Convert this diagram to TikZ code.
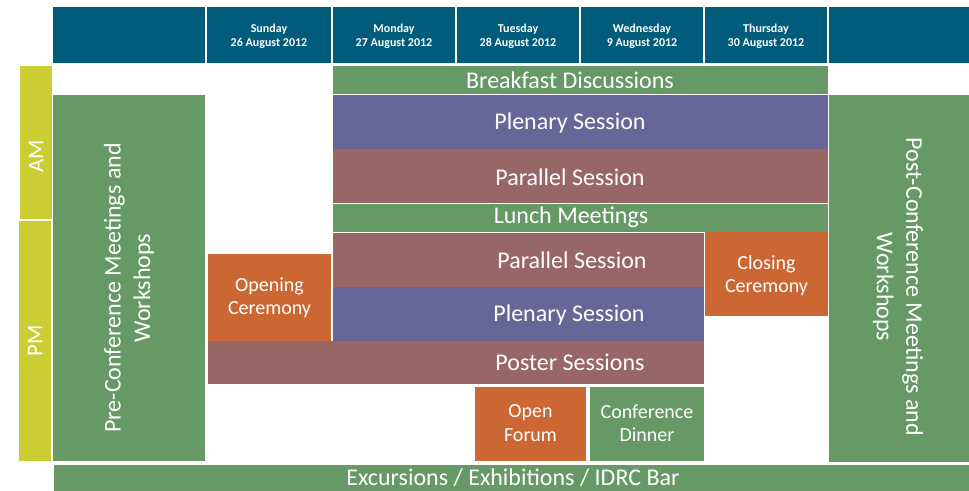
\documentclass[tikz,border=0pt]{standalone}
\usepackage{fontspec}
\setmainfont{Carlito}
\usepackage{tikz}
\definecolor{hdrblue}{RGB}{0,92,122}
\definecolor{grn}{RGB}{102,153,102}
\definecolor{plen}{RGB}{102,102,153}
\definecolor{mauve}{RGB}{153,102,102}
\definecolor{orng}{RGB}{204,102,51}
\definecolor{ylw}{RGB}{204,204,51}
\begin{document}
\begin{tikzpicture}[x=0.75pt, y=-0.75pt,
    hdr/.style={white, align=center, font=\fontsize{9}{10.5}\selectfont\bfseries},
    lbl/.style={white, align=center, font=\fontsize{18}{22}\selectfont},
    small/.style={white, align=center, font=\fontsize{15}{17.5}\selectfont},
    side/.style={white, font=\fontsize{17}{20}\selectfont, rotate=90}]
  \useasboundingbox (0,0) rectangle (969,491);
  % Header
  \fill[hdrblue] (53,7) rectangle (205,63);
  \fill[hdrblue] (207,7) rectangle (331,63);
  \fill[hdrblue] (333,7) rectangle (455,63);
  \fill[hdrblue] (457,7) rectangle (579,63);
  \fill[hdrblue] (581,7) rectangle (703,63);
  \fill[hdrblue] (705,7) rectangle (827,63);
  \fill[hdrblue] (829,7) rectangle (969,63);
  \node[hdr] (sun) at (269,36) {Sunday\\26 August 2012};
  \node[hdr] (mon) at (394,36) {Monday\\27 August 2012};
  \node[hdr] (tue) at (518,36) {Tuesday\\28 August 2012};
  \node[hdr] (wed) at (642,36) {Wednesday\\9 August 2012};
  \node[hdr] (thu) at (766,36) {Thursday\\30 August 2012};
  % AM / PM
  \fill[ylw] (20,66) rectangle (52,219);
  \fill[ylw] (19,221) rectangle (51,461);
  \node[side] (am) at (36,156) {AM};
  \node[side] (pm) at (35,341) {PM};
  % Pre and post conference
  \fill[grn] (53,95) rectangle (205,461);
  \node[lbl, rotate=90, font=\fontsize{18}{22}\selectfont] (pre) at (129,288) {Pre-Conference Meetings and\\Workshops};
  \fill[grn] (829,95) rectangle (969,462);
  \node[lbl, rotate=-90, font=\fontsize{18}{22}\selectfont] (post) at (898,287) {Post-Conference Meetings and\\Workshops};
  % Morning
  \fill[grn] (333,66) rectangle (828,94);
  \node[lbl] (breakfast) at (570,80) {Breakfast Discussions};
  \fill[plen] (333,95) rectangle (828,149);
  \node[lbl] (plenam) at (570,123) {Plenary Session};
  \fill[mauve] (333,149) rectangle (828,203);
  \node[lbl] (paraam) at (570,177) {Parallel Session};
  \fill[grn] (333,204) rectangle (828,232);
  \node[lbl] (lunch) at (571,217) {Lunch Meetings};
  % Afternoon
  \fill[mauve] (333,233) rectangle (704,287);
  \node[lbl] (parapm) at (572,260) {Parallel Session};
  \fill[plen] (333,287) rectangle (704,341);
  \node[lbl] (plenpm) at (569,315) {Plenary Session};
  \fill[orng] (208,254) rectangle (331,341);
  \node[small] (opening) at (269.5,297.5) {Opening\\Ceremony};
  \fill[mauve] (208,341) rectangle (704,384);
  \node[lbl] (poster) at (570,362) {Poster Sessions};
  \fill[orng] (705,232) rectangle (828,316);
  \node[small] (closing) at (766.5,276) {Closing\\Ceremony};
  % Evening
  \fill[orng] (475,387) rectangle (586,461);
  \node[small] (forum) at (530.5,423) {Open\\Forum};
  \fill[grn] (590,387) rectangle (704,461);
  \node[small] (dinner) at (647,423) {Conference\\Dinner};
  % Whole week
  \fill[grn] (54,465) rectangle (969,491);
  \node[lbl] (excursions) at (513,478) {Excursions / Exhibitions / IDRC Bar};
\end{tikzpicture}
\end{document}
